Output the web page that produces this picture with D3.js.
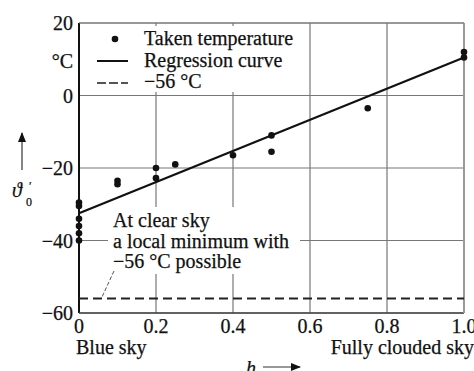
<!DOCTYPE html>
<html>
<head>
<meta charset="utf-8">
<script src="https://cdn.jsdelivr.net/npm/d3@7"></script>
<style>
  body { margin: 0; background: #fff; }
  text { font-family: "Liberation Serif", "Times New Roman", serif; fill: #111; stroke: #111; stroke-width: 0.25px; }
</style>
</head>
<body>
<svg></svg>
<script>
// measured cloudiness h and temperature
let pointH = [0, 0, 0, 0, 0, 0, 0.1, 0.1, 0.2, 0.2, 0.25, 0.4, 0.5, 0.5, 0.75, 1.0, 1.0]
let pointT = [-29.5, -30.5, -34, -36, -38, -40, -23.5, -24.5, -20, -22.8, -19, -16.5, -11, -15.5, -3.5, 10.5, 12]

let regH = [0, 1.0]
let regT = [-32.5, 10.5]

let minTemp = -56

let xTicks = [0, 0.2, 0.4, 0.6, 0.8, 1.0]
let xTickLabels = ['0', '0.2', '0.4', '0.6', '0.8', '1.0']
let yTicks = [20, 0, -20, -40, -60]
let yTickLabels = ['20', '0', '\u221220', '\u221240', '\u221260']

let legendLabels = ['Taken temperature', 'Regression curve', '\u221256 \u00b0C']
let noteLines = ['At clear sky', 'a local minimum with', '\u221256 \u00b0C possible']

let width = 474
let height = 371
let plotLeft = 79
let plotRight = 464
let plotTop = 23
let plotBottom = 313
let fontSize = '20px'

let svg = d3.select('svg').attr('width', width).attr('height', height)

let x = d3.scaleLinear().domain([0, 1]).range([plotLeft, plotRight])
let y = d3.scaleLinear().domain([-60, 20]).range([plotBottom, plotTop])

// grid
svg.append('g')
  .selectAll('line')
  .data(xTicks)
  .enter()
  .append('line')
  .attr('x1', d => x(d)).attr('x2', d => x(d))
  .attr('y1', plotTop).attr('y2', plotBottom)
  .attr('stroke', '#777').attr('stroke-width', 1.2)

svg.append('g')
  .selectAll('line')
  .data(yTicks)
  .enter()
  .append('line')
  .attr('x1', plotLeft).attr('x2', plotRight)
  .attr('y1', d => y(d)).attr('y2', d => y(d))
  .attr('stroke', '#777').attr('stroke-width', 1.2)

// white areas behind legend and note
svg.append('rect').attr('x', 81).attr('y', 26).attr('width', 224).attr('height', 66).attr('fill', '#fff')
svg.append('rect').attr('x', 108).attr('y', 207).attr('width', 192).attr('height', 67).attr('fill', '#fff')

// frame
svg.append('line').attr('x1', plotLeft).attr('x2', plotLeft).attr('y1', plotTop).attr('y2', plotBottom)
  .attr('stroke', '#111').attr('stroke-width', 2)
svg.append('line').attr('x1', plotLeft).attr('x2', plotRight).attr('y1', plotBottom).attr('y2', plotBottom)
  .attr('stroke', '#444').attr('stroke-width', 1.5)
svg.append('line').attr('x1', plotRight).attr('x2', plotRight).attr('y1', plotTop).attr('y2', plotBottom)
  .attr('stroke', '#999').attr('stroke-width', 2)
svg.append('line').attr('x1', plotLeft).attr('x2', plotRight).attr('y1', plotTop).attr('y2', plotTop)
  .attr('stroke', '#777').attr('stroke-width', 1.2)

// tick labels
svg.append('g')
  .selectAll('text')
  .data(yTicks)
  .enter()
  .append('text')
  .attr('x', 73)
  .attr('y', d => y(d) + 7)
  .attr('text-anchor', 'end')
  .style('font-size', fontSize)
  .text((d, i) => yTickLabels[i])

svg.append('g')
  .selectAll('text')
  .data(xTicks)
  .enter()
  .append('text')
  .attr('x', d => x(d))
  .attr('y', 333)
  .attr('text-anchor', 'middle')
  .style('font-size', fontSize)
  .text((d, i) => xTickLabels[i])

svg.append('text').attr('x', 76).attr('y', 354).style('font-size', fontSize).text('Blue sky')
svg.append('text').attr('x', 474).attr('y', 354).attr('text-anchor', 'end').style('font-size', fontSize).text('Fully clouded sky')
svg.append('text').attr('x', 73).attr('y', 68).attr('text-anchor', 'end').style('font-size', fontSize).text('\u00b0C')

// axis names with arrows
svg.append('defs').append('marker')
  .attr('id', 'head')
  .attr('viewBox', '0 0 10 10')
  .attr('refX', 9).attr('refY', 5)
  .attr('markerWidth', 10).attr('markerHeight', 10)
  .attr('markerUnits', 'userSpaceOnUse')
  .attr('orient', 'auto')
  .append('path').attr('d', 'M0,1 L10,5 L0,9 Z').attr('fill', '#111')

svg.append('line').attr('x1', 22).attr('x2', 22).attr('y1', 170).attr('y2', 133)
  .attr('stroke', '#333').attr('stroke-width', 1.2).attr('marker-end', 'url(#head)')
svg.append('text').attr('x', 12).attr('y', 197).style('font-size', fontSize).style('font-style', 'italic').text('\u03d1')
svg.append('text').attr('x', 29).attr('y', 190).style('font-size', '12px').text('\u2032')
svg.append('text').attr('x', 26).attr('y', 206).style('font-size', '12px').text('0')

svg.append('text').attr('x', 246).attr('y', 375).style('font-size', fontSize).style('font-style', 'italic').text('h')
svg.append('line').attr('x1', 263).attr('x2', 300).attr('y1', 367).attr('y2', 367)
  .attr('stroke', '#333').attr('stroke-width', 1.2).attr('marker-end', 'url(#head)')

// -56 line
svg.append('line')
  .attr('x1', x(0)).attr('x2', x(1))
  .attr('y1', y(minTemp)).attr('y2', y(minTemp))
  .attr('stroke', '#222').attr('stroke-width', 2)
  .attr('stroke-dasharray', '9,5')

// regression
let line = d3.line().x(d => x(d[0])).y(d => y(d[1]))
svg.append('path')
  .datum(regH.map((h, i) => [h, regT[i]]))
  .attr('d', line)
  .attr('fill', 'none')
  .attr('stroke', '#111')
  .attr('stroke-width', 2.2)

// points
svg.append('g')
  .selectAll('circle')
  .data(pointH)
  .enter()
  .append('circle')
  .attr('cx', d => x(d))
  .attr('cy', (d, i) => y(pointT[i]))
  .attr('r', 3.3)
  .attr('fill', '#111')

// legend
let lg = svg.append('g')
lg.append('circle').attr('cx', 115).attr('cy', 39).attr('r', 3.3).attr('fill', '#111')
lg.append('line').attr('x1', 97).attr('x2', 128).attr('y1', 61).attr('y2', 61)
  .attr('stroke', '#111').attr('stroke-width', 2)
lg.append('line').attr('x1', 97).attr('x2', 128).attr('y1', 83).attr('y2', 83)
  .attr('stroke', '#555').attr('stroke-width', 2).attr('stroke-dasharray', '9,3')
lg.selectAll('text')
  .data(legendLabels)
  .enter()
  .append('text')
  .attr('x', 144)
  .attr('y', (d, i) => 45 + i * 21.5)
  .style('font-size', fontSize)
  .text(d => d)

// note
svg.append('g')
  .selectAll('text')
  .data(noteLines)
  .enter()
  .append('text')
  .attr('x', 113)
  .attr('y', (d, i) => 227 + i * 20.5)
  .style('font-size', fontSize)
  .text(d => d)

svg.append('line').attr('x1', 114).attr('y1', 271).attr('x2', 102).attr('y2', 297)
  .attr('stroke', '#555').attr('stroke-width', 1).attr('stroke-dasharray', '4,2')
</script>
</body>
</html>
